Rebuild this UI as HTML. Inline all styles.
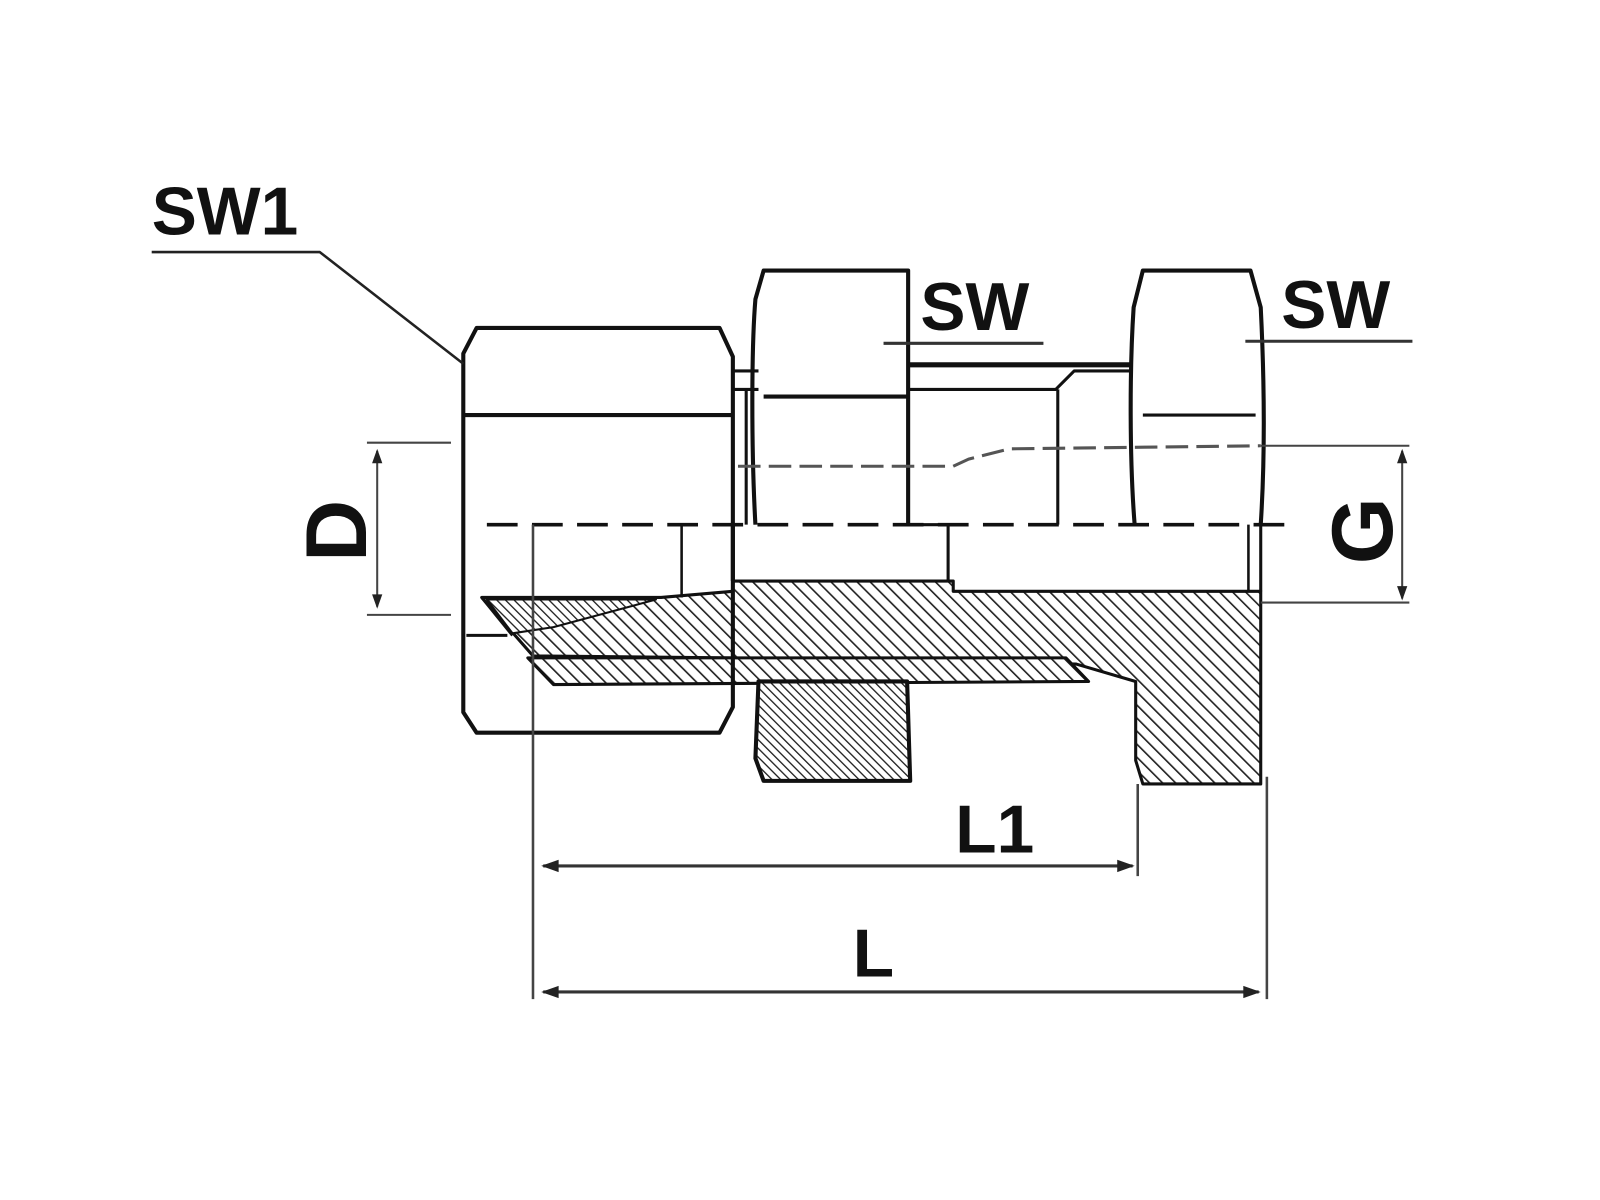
<!DOCTYPE html>
<html><head><meta charset="utf-8"><style>
html,body{margin:0;padding:0;background:#fff;}
svg{display:block;}
text{font-family:"Liberation Sans",sans-serif;font-weight:bold;fill:#111;}
</style></head><body>
<svg width="1600" height="1200" viewBox="0 0 1561 1171" preserveAspectRatio="none" xmlns="http://www.w3.org/2000/svg">
<defs>
<pattern id="h" width="9" height="9" patternUnits="userSpaceOnUse" patternTransform="rotate(-45)">
<rect width="9" height="9" fill="#fff"/><line x1="0" y1="0" x2="0" y2="9" stroke="#222" stroke-width="3.2"/>
</pattern>
<pattern id="h2" width="6" height="6" patternUnits="userSpaceOnUse" patternTransform="rotate(-45)">
<rect width="6" height="6" fill="#fff"/><line x1="0" y1="0" x2="0" y2="6" stroke="#222" stroke-width="2.6"/>
</pattern>
</defs>
<g fill="none" stroke="#111" stroke-linejoin="round">
<polygon points="715,567 930,567 930,577 1230,577 1230,765 1115,765 1108,742 1108,665 1050,648 715,642" fill="url(#h)" stroke-width="3"/>
<polygon points="470,583 645,583 715,577 715,642 520,640" fill="url(#h)" stroke-width="3"/>
<polygon points="475,585 640,585 540,612 500,618" fill="url(#h2)" stroke-width="2"/>
<polygon points="515,642 1040,642 1062,665 540,668" fill="url(#h)" stroke-width="3"/>
<polygon points="740,665 885,665 888,762 745,762 737,740" fill="url(#h2)" stroke-width="4"/>

<polygon points="465,320 702,320 715,348 715,690 702,715 465,715 452,695 452,345" fill="none" stroke-width="4"/>
<line x1="452" y1="405" x2="715" y2="405" stroke-width="4"/>
<line x1="455" y1="620" x2="495" y2="620" stroke-width="3"/>
<line x1="470" y1="583" x2="500" y2="620" stroke-width="3"/>
<line x1="715" y1="362" x2="740" y2="362" stroke-width="3"/>
<line x1="715" y1="380" x2="740" y2="380" stroke-width="3"/>
<line x1="728" y1="380" x2="728" y2="512" stroke-width="3"/>
<path d="M737,512 C733,440 733,340 737,292 L745,264 L886,264 L886,512" stroke-width="4"/>
<line x1="745" y1="387" x2="886" y2="387" stroke-width="4"/>
<line x1="886" y1="356" x2="1105" y2="356" stroke-width="5"/>
<polyline points="886,380 1030,380 1048,362 1105,362" stroke-width="3"/>
<line x1="1032" y1="380" x2="1032" y2="512" stroke-width="3"/>
<path d="M1107,512 C1102,450 1102,360 1106,300 L1115,264 L1220,264 L1230,300 C1234,380 1234,450 1230,512" stroke-width="4"/>
<line x1="1115" y1="405" x2="1225" y2="405" stroke-width="3"/>
<polyline points="715,512 715,567" stroke-width="4"/>
<polyline points="888,512 925,512 925,567" stroke-width="3"/>
<line x1="665" y1="512" x2="665" y2="583" stroke-width="2.5"/>
<line x1="1218" y1="512" x2="1218" y2="577" stroke-width="2.5"/>
<line x1="1230" y1="512" x2="1230" y2="577" stroke-width="3"/>

<line x1="475" y1="512" x2="1265" y2="512" stroke-width="3.5" stroke-dasharray="30,14"/>
<polyline points="720,455 930,455 945,448 985,438 1230,435" stroke="#555" stroke-width="3" stroke-dasharray="22,8"/>

<line x1="358" y1="432" x2="440" y2="432" stroke="#444" stroke-width="2"/>
<line x1="358" y1="600" x2="440" y2="600" stroke="#444" stroke-width="2"/>
<line x1="368" y1="440" x2="368" y2="592" stroke="#444" stroke-width="2"/>
<polygon points="368,438 363,452 373,452" fill="#222" stroke="none"/>
<polygon points="368,594 363,580 373,580" fill="#222" stroke="none"/>
<line x1="1230" y1="435" x2="1375" y2="435" stroke="#444" stroke-width="2"/>
<line x1="1230" y1="588" x2="1375" y2="588" stroke="#444" stroke-width="2"/>
<line x1="1368" y1="440" x2="1368" y2="584" stroke="#444" stroke-width="2"/>
<polygon points="1368,438 1363,452 1373,452" fill="#222" stroke="none"/>
<polygon points="1368,586 1363,572 1373,572" fill="#222" stroke="none"/>

<polyline points="148,246 312,246 452,355" stroke="#222" stroke-width="2.5"/>
<line x1="862" y1="335" x2="1018" y2="335" stroke="#333" stroke-width="3"/>
<line x1="1215" y1="333" x2="1378" y2="333" stroke="#333" stroke-width="3"/>

<line x1="520" y1="512" x2="520" y2="975" stroke="#444" stroke-width="2.5"/>
<line x1="1110" y1="765" x2="1110" y2="855" stroke="#444" stroke-width="2.5"/>
<line x1="1236" y1="758" x2="1236" y2="975" stroke="#444" stroke-width="2.5"/>
<line x1="530" y1="845" x2="1105" y2="845" stroke="#333" stroke-width="3"/>
<polygon points="528,845 545,839 545,851" fill="#222" stroke="none"/>
<polygon points="1107,845 1090,839 1090,851" fill="#222" stroke="none"/>
<line x1="530" y1="968" x2="1228" y2="968" stroke="#333" stroke-width="3"/>
<polygon points="528,968 545,962 545,974" fill="#222" stroke="none"/>
<polygon points="1230,968 1213,962 1213,974" fill="#222" stroke="none"/>
</g>
<text x="148" y="229" font-size="66">SW1</text>
<text x="898" y="322" font-size="66">SW</text>
<text x="1250" y="320" font-size="66">SW</text>
<text x="932" y="832" font-size="66">L1</text>
<text x="832" y="953" font-size="66">L</text>
<text transform="translate(357,518) rotate(-90)" text-anchor="middle" font-size="84">D</text>
<text transform="translate(1358,518) rotate(-90)" text-anchor="middle" font-size="84">G</text>
</svg>
</body></html>
